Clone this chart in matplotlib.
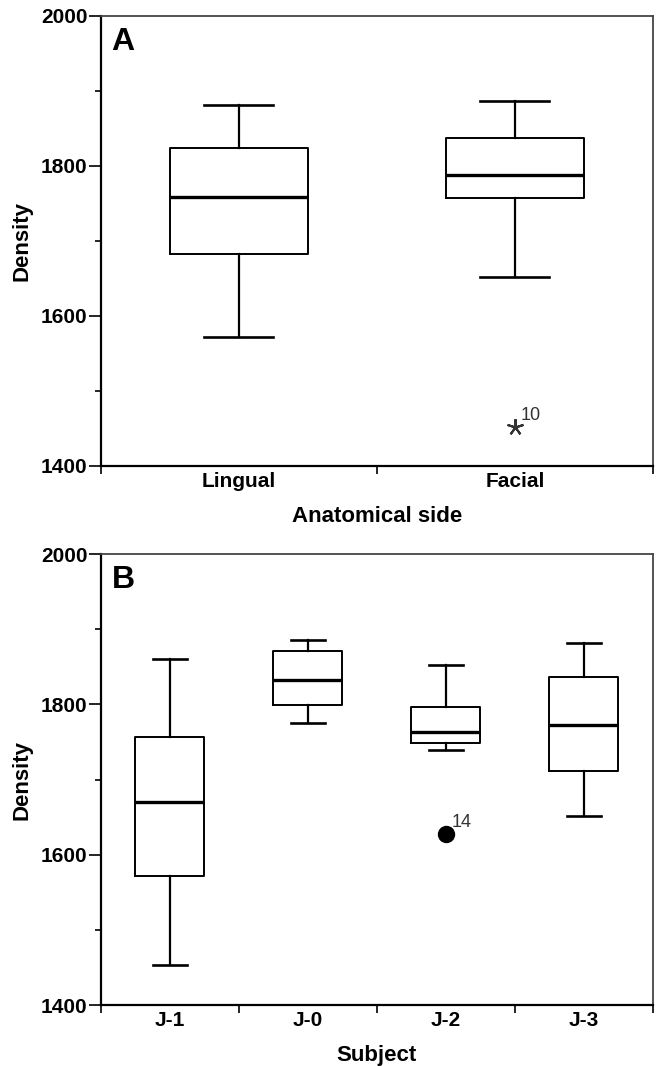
import matplotlib
matplotlib.use('Agg')
import matplotlib.pyplot as plt
import numpy as np

plt.rcParams['font.family'] = ['Liberation Sans', 'DejaVu Sans']

# panel A: density by anatomical side
sides = ['Lingual', 'Facial']
side_lo = [1572, 1652]
side_q1 = [1683, 1757]
side_med = [1758, 1788]
side_q3 = [1824, 1837]
side_hi = [1881, 1887]
side_out = [[], [1452]]
side_out_ids = [[], ['10']]

# panel B: density by subject
subjects = ['J-1', 'J-0', 'J-2', 'J-3']
subj_lo = [1453, 1775, 1739, 1651]
subj_q1 = [1572, 1799, 1748, 1711]
subj_med = [1670, 1833, 1763, 1772]
subj_q3 = [1757, 1871, 1797, 1837]
subj_hi = [1861, 1886, 1852, 1882]
subj_out = [[], [], [1627], []]
subj_out_ids = [[], [], ['14'], []]

y_major = [1400, 1600, 1800, 2000]
y_minor = [1500, 1700, 1900]


def draw_panel(ax, names, lo, q1, med, q3, hi, out, out_ids, flier_kw, letter, xlabel):
    stats = []
    for i in range(len(names)):
        stats.append(dict(label=names[i], whislo=lo[i], q1=q1[i], med=med[i],
                          q3=q3[i], whishi=hi[i], fliers=out[i]))
    n = len(names)
    pos = np.arange(1, n + 1)
    ax.bxp(stats, positions=pos, widths=0.5, capwidths=0.25, manage_ticks=False,
           boxprops=dict(color='black', linewidth=1.4),
           whiskerprops=dict(color='black', linewidth=1.6),
           capprops=dict(color='black', linewidth=1.9),
           medianprops=dict(color='black', linewidth=2.4),
           flierprops=flier_kw)
    for i in range(n):
        for v, lab in zip(out[i], out_ids[i]):
            ax.annotate(lab, (pos[i], v), xytext=(4, 5), textcoords='offset points',
                        fontsize=13, color='#333333')

    ax.set_xlim(0.5, n + 0.5)
    ax.set_ylim(1400, 2000)
    ax.set_xticks(pos)
    ax.set_xticklabels(names, fontsize=15, fontweight='bold')
    ax.set_xticks(np.arange(0.5, n + 1, 1), minor=True)
    ax.tick_params(axis='x', which='major', length=0, pad=4)
    ax.tick_params(axis='x', which='minor', length=6, width=1.2)
    ax.set_yticks(y_major)
    ax.set_yticklabels([str(v) for v in y_major], fontsize=15, fontweight='bold')
    ax.set_yticks(y_minor, minor=True)
    ax.tick_params(axis='y', which='major', length=8.6, width=1.2, pad=1)
    ax.tick_params(axis='y', which='minor', length=4.3, width=1.2)

    ax.spines['left'].set_linewidth(1.6)
    ax.spines['bottom'].set_linewidth(1.6)
    for s in ['top', 'right']:
        ax.spines[s].set_linewidth(1.3)
        ax.spines[s].set_color('#444444')

    ax.set_ylabel('Density', fontsize=16, fontweight='bold', labelpad=6)
    ax.set_xlabel(xlabel, fontsize=16, fontweight='bold', labelpad=11)
    ax.text(0.019, 0.924, letter, transform=ax.transAxes, fontsize=23,
            fontweight='bold', va='baseline', ha='left')


fig = plt.figure(figsize=(6.57, 10.66), dpi=100)
axA = fig.add_axes([0.1537, 0.5629, 0.840, 0.4221])
axB = fig.add_axes([0.1537, 0.0572, 0.840, 0.4230])

draw_panel(axA, sides, side_lo, side_q1, side_med, side_q3, side_hi, side_out, side_out_ids,
           dict(marker=(5, 2, 0), markersize=12, markeredgecolor='#333333',
                markeredgewidth=1.5, linestyle='none'),
           'A', 'Anatomical side')
draw_panel(axB, subjects, subj_lo, subj_q1, subj_med, subj_q3, subj_hi, subj_out, subj_out_ids,
           dict(marker='o', markersize=11.5, markerfacecolor='black', markeredgecolor='black',
                linestyle='none'),
           'B', 'Subject')

fig.savefig('out.png', dpi=100)
